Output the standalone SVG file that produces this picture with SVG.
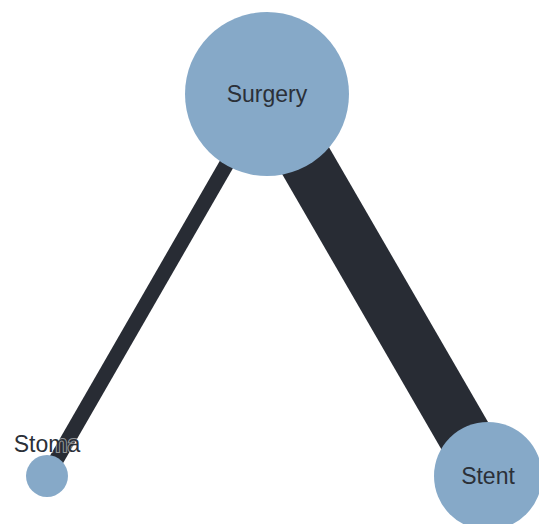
<svg xmlns="http://www.w3.org/2000/svg" width="539" height="524" viewBox="0 0 539 524">
  <style>
    .link { stroke: #282c34; stroke-linecap: butt; fill: none; }
    .node circle { fill: #86a9c8; }
    .label { font-family: "Liberation Sans", Arial, sans-serif; font-size: 23px; fill: #2b3038; text-anchor: middle; }
    .halo { stroke: #ffffff; stroke-opacity: 0.5; stroke-width: 2; paint-order: stroke; }
  </style>
  <rect width="539" height="524" fill="#ffffff"/>
  <g id="links">
    <line class="link" x1="267" y1="94" x2="47" y2="476" stroke-width="15"/>
    <line class="link" x1="267" y1="94" x2="488" y2="476" stroke-width="54"/>
  </g>
  <g id="node-surgery" class="node">
    <circle cx="267" cy="94" r="82"/>
    <text class="label" x="267" y="102">Surgery</text>
  </g>
  <g id="node-stent" class="node">
    <circle cx="488" cy="476" r="54"/>
    <text class="label" x="488" y="484">Stent</text>
  </g>
  <g id="node-stoma" class="node">
    <circle cx="47" cy="476" r="21"/>
    <text class="label halo" x="47" y="452">Stoma</text>
  </g>
</svg>
